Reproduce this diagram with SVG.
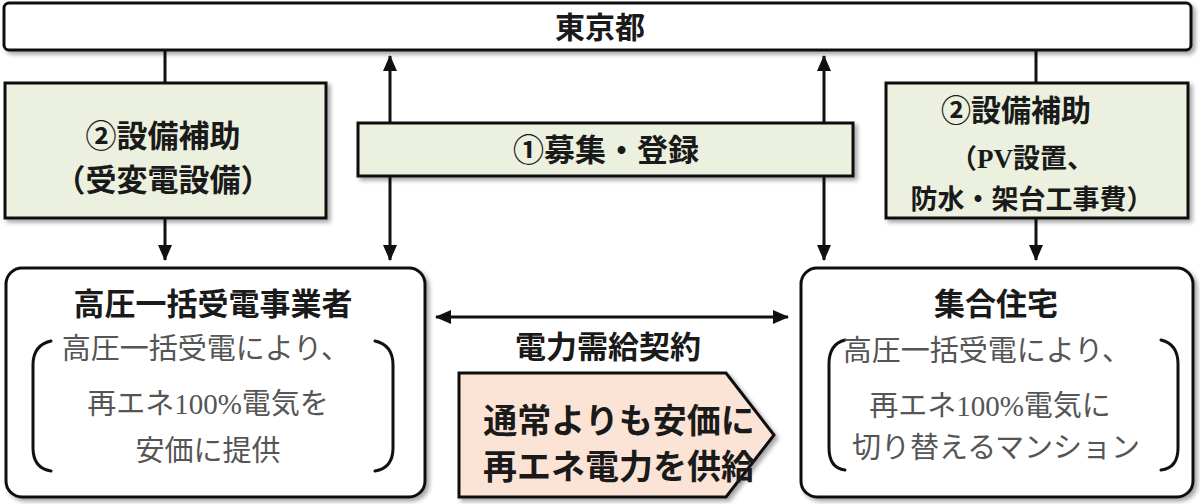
<svg xmlns="http://www.w3.org/2000/svg" width="1200" height="504" viewBox="0 0 1200 504">
<style>
.box{stroke:#111;stroke-width:3}
.green{fill:#ebf1de}
.white{fill:#ffffff}
.peach{fill:#fbe4d5}
.t{font-family:"Liberation Serif","Noto Sans CJK JP",serif;text-anchor:middle;dominant-baseline:central;fill:#1a1a1a}
.b{font-weight:700}
.g{fill:#555;font-weight:400}
.ln{stroke:#111;stroke-width:3;fill:none}
.br{stroke:#111;stroke-width:3;fill:none;stroke-linecap:round}
</style>
<defs>
<filter id="sh" x="-5%" y="-5%" width="115%" height="125%">
<feDropShadow dx="3" dy="3" stdDeviation="2" flood-color="#000" flood-opacity="0.35"/>
</filter>
<marker id="ah" viewBox="0 0 16 14" refX="15" refY="7" markerWidth="16" markerHeight="14" markerUnits="userSpaceOnUse" orient="auto-start-reverse">
<path d="M0,0 L16,7 L0,14 Z" fill="#111"/>
</marker>
</defs>

<g id="connectors">
<line class="ln" x1="165" y1="50" x2="165" y2="83"/>
<line class="ln" x1="165" y1="218" x2="165" y2="260" marker-end="url(#ah)"/>
<line class="ln" x1="1036" y1="50" x2="1036" y2="83"/>
<line class="ln" x1="1036" y1="218" x2="1036" y2="260" marker-end="url(#ah)"/>
<line class="ln" x1="390" y1="56" x2="390" y2="260" marker-start="url(#ah)" marker-end="url(#ah)"/>
<line class="ln" x1="824" y1="56" x2="824" y2="260" marker-start="url(#ah)" marker-end="url(#ah)"/>
<line class="ln" x1="436" y1="317" x2="788" y2="317" marker-start="url(#ah)" marker-end="url(#ah)"/>
<text class="t b" x="608" y="347" font-size="31">電力需給契約</text>
</g>

<g id="tokyo">
<rect class="box white" x="4" y="3" width="1187" height="47" rx="5" filter="url(#sh)"/>
<text class="t b" x="600" y="27" font-size="30">東京都</text>
</g>

<g id="subsidy-left">
<rect class="box green" x="5" y="83" width="321" height="135" filter="url(#sh)"/>
<text class="t b" x="163" y="136" font-size="31">②設備補助</text>
<text class="t b" x="163" y="180" font-size="31">（受変電設備）</text>
</g>

<g id="recruit">
<rect class="box green" x="358" y="123" width="495" height="53" filter="url(#sh)"/>
<text class="t b" x="606" y="150" font-size="31">①募集・登録</text>
</g>

<g id="subsidy-right">
<rect class="box green" x="886" y="83" width="302" height="135" filter="url(#sh)"/>
<text class="t b" x="1016" y="110" font-size="30">②設備補助</text>
<text class="t b" x="1022" y="159" font-size="27">（PV設置、</text>
<text class="t b" x="1032" y="200" font-size="27">防水・架台工事費）</text>
</g>

<g id="operator">
<rect class="box white" x="6" y="268" width="419" height="229" rx="16" filter="url(#sh)"/>
<text class="t b" x="213" y="304" font-size="31">高圧一括受電事業者</text>
<path class="br" d="M51,341 Q33,345 33,365 L33,448 Q33,468 51,471"/>
<path class="br" d="M375,341 Q393,345 393,365 L393,448 Q393,468 375,471"/>
<text class="t g" x="206" y="349" font-size="29">高圧一括受電により、</text>
<text class="t g" x="208" y="404" font-size="29">再エネ100%電気を</text>
<text class="t g" x="208" y="451" font-size="29">安価に提供</text>
</g>

<g id="supply">
<path class="box peach" d="M459,373 L726,373 L774,435 L726,497 L459,497 Z" filter="url(#sh)"/>
<text class="t b" x="619" y="421" font-size="34">通常よりも安価に</text>
<text class="t b" x="619" y="467" font-size="34">再エネ電力を供給</text>
</g>

<g id="apartment">
<rect class="box white" x="801" y="268" width="392" height="229" rx="16" filter="url(#sh)"/>
<text class="t b" x="996" y="304" font-size="31">集合住宅</text>
<path class="br" d="M845,340 Q829,344 829,364 L829,448 Q829,468 845,470"/>
<path class="br" d="M1161,340 Q1178,344 1178,364 L1178,448 Q1178,468 1161,470"/>
<text class="t g" x="987" y="351" font-size="29">高圧一括受電により、</text>
<text class="t g" x="990" y="406" font-size="29">再エネ100%電気に</text>
<text class="t g" x="996" y="448" font-size="29">切り替えるマンション</text>
</g>
</svg>
